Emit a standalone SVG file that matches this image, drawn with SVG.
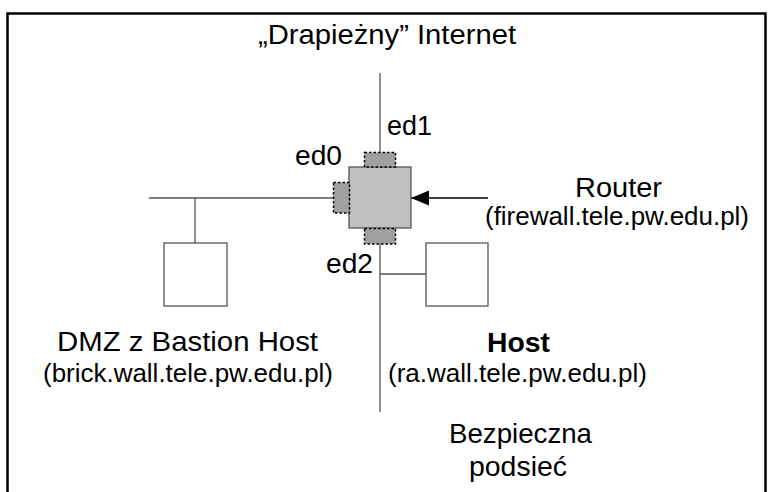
<svg xmlns="http://www.w3.org/2000/svg" width="768" height="492" viewBox="0 0 768 492">
  <defs>
    <style>
      text { font-family: "Liberation Sans", Arial, sans-serif; fill: #000; }
      .big { font-size: 27.5px; }
      .small { font-size: 25px; }
      .bold { font-weight: bold; }
      .line { stroke: #555; stroke-width: 1.3; fill: none; }
      .box { fill: #fff; stroke: #555; stroke-width: 1.3; }
      .router { fill: #c0c0c0; stroke: #555; stroke-width: 1.3; }
      .port { fill: #a0a0a0; stroke: #000; stroke-width: 1.5; stroke-dasharray: 2.5 2; }
    </style>
    <marker id="arrow" markerWidth="19" markerHeight="16" refX="18" refY="8" orient="auto" markerUnits="userSpaceOnUse">
      <path d="M0,0.5 L18,8 L0,15.5 Z" fill="#000"/>
    </marker>
  </defs>
  <rect width="768" height="492" fill="#fff"/>
  <path d="M7.5,495 V13.5 H765.5 V495" fill="none" stroke="#000" stroke-width="2.5"/>

  <g id="title">
    <text class="big" x="258" y="44" textLength="258" lengthAdjust="spacingAndGlyphs">„Drapieżny” Internet</text>
  </g>

  <g id="connectors">
    <line class="line" x1="380" y1="73" x2="380" y2="412"/>
    <line class="line" x1="149" y1="198" x2="334" y2="198"/>
    <line class="line" x1="195" y1="198" x2="195" y2="243"/>
    <line class="line" x1="380" y1="274" x2="426" y2="274"/>
    <line x1="488" y1="198" x2="411" y2="198" stroke="#000" stroke-width="1.5" marker-end="url(#arrow)"/>
  </g>

  <g id="router">
    <rect class="router" x="349" y="167" width="62" height="61"/>
    <rect class="port" x="364.5" y="152.5" width="31" height="14.5"/>
    <rect class="port" x="333.5" y="182.5" width="16" height="30.5"/>
    <rect class="port" x="364.5" y="228.5" width="31" height="15.5"/>
    <text class="big" x="387" y="135" textLength="45" lengthAdjust="spacingAndGlyphs">ed1</text>
    <text class="big" x="295" y="165" textLength="47" lengthAdjust="spacingAndGlyphs">ed0</text>
    <text class="big" x="326" y="273" textLength="47" lengthAdjust="spacingAndGlyphs">ed2</text>
  </g>

  <g id="router-label">
    <text class="big" x="575" y="197" textLength="87" lengthAdjust="spacingAndGlyphs">Router</text>
    <text class="small" x="485" y="225" textLength="264" lengthAdjust="spacingAndGlyphs">(firewall.tele.pw.edu.pl)</text>
  </g>

  <g id="dmz">
    <rect class="box" x="164" y="243" width="63" height="63"/>
    <text class="big" x="57" y="351" textLength="261" lengthAdjust="spacingAndGlyphs">DMZ z Bastion Host</text>
    <text class="small" x="43" y="382" textLength="290" lengthAdjust="spacingAndGlyphs">(brick.wall.tele.pw.edu.pl)</text>
  </g>

  <g id="host">
    <rect class="box" x="426" y="243" width="62" height="63"/>
    <text class="big bold" x="487" y="352" textLength="63" lengthAdjust="spacingAndGlyphs">Host</text>
    <text class="small" x="388" y="382" textLength="259" lengthAdjust="spacingAndGlyphs">(ra.wall.tele.pw.edu.pl)</text>
  </g>

  <g id="secure-subnet">
    <text class="big" x="449" y="443" textLength="143" lengthAdjust="spacingAndGlyphs">Bezpieczna</text>
    <text class="big" x="469" y="476" textLength="98" lengthAdjust="spacingAndGlyphs">podsieć</text>
  </g>
</svg>
